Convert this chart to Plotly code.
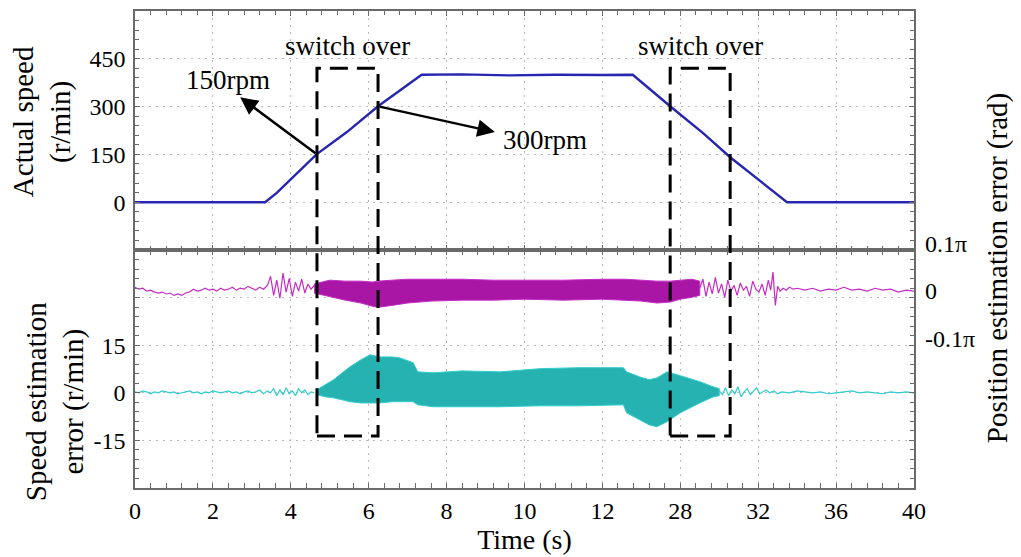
import plotly.graph_objects as go
from plotly.subplots import make_subplots

# ---------------- data (x in screen divisions, 0..10) ----------------
tick_positions = [0, 1, 2, 3, 4, 5, 6, 7, 8, 9, 10]
tick_labels = ["0", "2", "4", "6", "8", "10", "12", "28", "32", "36", "40"]

speed_t = [0, 1.0, 1.67, 1.82, 2.33, 2.72, 3.12, 3.68, 4.2, 4.8, 5.4, 6.0, 6.39,
           6.87, 7.3, 7.64, 8.0, 8.37, 9.0, 10]
speed_v = [0, 0, 0, 29, 150, 220, 301, 400, 401, 398, 400, 399, 400,
           301, 215, 141, 70, 0, 0, 0]

speed_ticks = [0, 150, 300, 450]
err_ticks = [-15, 0, 15, 30]
err_tick_labels = ["-15", "0", "15", ""]
pos_ticks = [-0.1, 0, 0.1]
pos_tick_labels = ["-0.1π", "0", "0.1π"]

# position estimation error (units of pi)
pos1_t = [0.00, 0.05, 0.10, 0.15, 0.20, 0.25, 0.30, 0.35, 0.40, 0.45, 0.50, 0.55, 0.60,
          0.65, 0.70, 0.75, 0.80, 0.85, 0.90, 0.95, 1.00, 1.05, 1.10, 1.15, 1.20, 1.25,
          1.30, 1.35, 1.40, 1.45, 1.50, 1.55, 1.60, 1.65, 1.70, 1.74, 1.78, 1.82, 1.86,
          1.90, 1.94, 1.98, 2.02, 2.06, 2.10, 2.14, 2.18, 2.22, 2.26, 2.30]
pos1_v = [0.022, 0.018, 0.020, 0.014, 0.016, 0.012, 0.010, 0.012, 0.008, 0.010, 0.005,
          0.008, 0.005, 0.010, 0.012, 0.018, 0.014, 0.016, 0.020, 0.016, 0.018, 0.014,
          0.020, 0.016, 0.018, 0.022, 0.016, 0.020, 0.018, 0.024, 0.020, 0.016, 0.022,
          0.018, 0.026, 0.045, 0.005, 0.037, -0.001, 0.052, 0.012, 0.041, 0.003, 0.033,
          0.014, 0.039, 0.010, 0.029, 0.018, 0.026]

pos_band_t = [2.30, 2.50, 2.70, 2.90, 3.05, 3.12, 3.30, 3.50, 3.80, 4.20, 4.60, 5.00,
              5.50, 6.00, 6.30, 6.50, 6.70, 6.87, 7.00, 7.15, 7.25]
pos_band_hi = [0.029, 0.037, 0.035, 0.035, 0.033, 0.035, 0.037, 0.039, 0.039, 0.039,
               0.037, 0.037, 0.037, 0.039, 0.039, 0.037, 0.035, 0.035, 0.037, 0.039, 0.035]
pos_band_lo = [0.010, 0.003, -0.005, -0.011, -0.018, -0.020, -0.016, -0.011, -0.007,
               -0.005, -0.005, -0.003, -0.005, -0.003, -0.005, -0.007, -0.011, -0.009,
               -0.003, 0.001, 0.005]

pos2_t = [7.25, 7.29, 7.33, 7.37, 7.41, 7.45, 7.49, 7.53, 7.57, 7.61, 7.65, 7.69, 7.73,
          7.77, 7.81, 7.85, 7.89, 7.93, 7.97, 8.01, 8.05, 8.09, 8.13, 8.16, 8.19, 8.22,
          8.25, 8.28, 8.32, 8.36, 8.40, 8.45, 8.50, 8.60, 8.70, 8.80, 8.90, 9.00, 9.10,
          9.20, 9.30, 9.40, 9.50, 9.60, 9.70, 9.80, 9.90, 10.0]
pos2_v = [0.020, 0.039, 0.003, 0.033, 0.008, 0.043, 0.010, 0.029, 0.001, 0.037, 0.014,
          0.026, 0.005, 0.031, 0.016, 0.024, 0.003, 0.035, 0.018, 0.012, 0.029, 0.005,
          0.037, 0.016, 0.054, -0.016, 0.024, 0.014, 0.020, 0.016, 0.022, 0.018, 0.020,
          0.016, 0.020, 0.014, 0.018, 0.016, 0.022, 0.016, 0.018, 0.014, 0.020, 0.016,
          0.018, 0.012, 0.016, 0.014]

# speed estimation error (r/min)
spd1_t = pos1_t
spd1_v = [0.3, 0.0, 0.6, 0.3, -0.3, 0.3, 0.0, 0.6, 0.3, 0.0, 0.3, -0.3, 0.0, 0.3, 0.6,
          0.0, 0.3, -0.3, 0.3, 0.0, 0.6, 0.3, 0.0, 0.3, 0.6, 0.0, 0.3, -0.3, 0.3, 0.6,
          0.0, 0.3, 0.9, -0.3, 0.6, 0.0, 1.3, -0.9, 0.9, -0.6, 1.6, -0.3, 0.6, -0.9,
          1.3, 0.0, 0.9, -0.6, 0.3, 0.0]

spd_band_t = [2.33, 2.45, 2.55, 2.66, 2.76, 2.90, 3.02, 3.14, 3.30, 3.40, 3.57, 3.63,
              3.83, 4.20, 4.69, 5.20, 5.70, 6.27, 6.31, 6.48, 6.60, 6.70, 6.83, 7.00,
              7.25, 7.42, 7.50]
spd_band_hi = [0.9, 2.5, 4.1, 6.3, 8.2, 10.4, 12.0, 11.3, 11.3, 11.0, 9.5, 6.6, 6.3,
               6.9, 6.6, 7.6, 7.9, 7.9, 6.6, 5.0, 4.1, 4.7, 6.6, 5.4, 3.5, 1.9, 1.3]
spd_band_lo = [-0.6, -1.3, -1.6, -2.2, -2.8, -3.2, -3.2, -3.2, -2.8, -2.8, -2.8, -3.8,
               -4.4, -4.4, -4.4, -4.1, -4.1, -3.8, -6.3, -8.5, -10.1, -10.7, -9.1, -6.3,
               -3.2, -1.3, -0.9]

spd2_t = [7.50, 7.54, 7.58, 7.62, 7.66, 7.70, 7.74, 7.78, 7.82, 7.86, 7.90, 7.94, 7.98,
          8.02, 8.06, 8.10, 8.15, 8.20, 8.25, 8.30, 8.40, 8.50, 8.60, 8.70, 8.80, 8.90,
          9.00, 9.10, 9.20, 9.30, 9.40, 9.50, 9.60, 9.70, 9.80, 9.90, 10.0]
spd2_v = [0.6, -0.6, 1.6, -0.9, 0.9, -0.3, 1.9, -1.3, 0.3, 1.3, -0.6, 0.6, 1.6, -0.3,
          0.3, 0.9, 0.0, 0.6, -0.3, 0.3, 0.0, 0.6, 0.3, 0.0, 0.3, -0.3, 0.0, 0.3, 0.6,
          0.0, 0.3, 0.0, -0.3, 0.3, 0.0, 0.3, 0.0]

# channel reference marker of the position-error trace (left edge)
pos_marker_t = [-0.045]
pos_marker_v = [-0.007]

# switch-over windows and annotation points
switch_windows = [(2.336, 3.12), (6.87, 7.64)]
arrow_150 = dict(tip=(1.35, 329), tail=(2.336, 150), label=(1.19, 383), text="150rpm")
arrow_300 = dict(tip=(4.62, 220), tail=(3.12, 301), label=(5.26, 195), text="300rpm")

# ---------------- figure ----------------
FONT = "Liberation Serif, Times New Roman, serif"
BLUE = "#2626b0"
MAG = "#c42cc4"
MAG_BAND = "#a916a6"
CYAN = "#30cccc"
CYAN_BAND = "#27b2b2"
AXC = "#6a6a6a"
GRIDC = "#b8b8b8"

fig = make_subplots(rows=2, cols=1, shared_xaxes=True, vertical_spacing=0,
                    specs=[[{}], [{"secondary_y": True}]])

fig.add_trace(go.Scatter(x=speed_t, y=speed_v, mode="lines",
                         line=dict(color=BLUE, width=2.4), showlegend=False), row=1, col=1)

fig.add_trace(go.Scatter(x=pos1_t, y=pos1_v, mode="lines",
                         line=dict(color=MAG, width=1.2), showlegend=False),
              row=2, col=1, secondary_y=True)
fig.add_trace(go.Scatter(x=pos_band_t + pos_band_t[::-1], y=pos_band_hi + pos_band_lo[::-1],
                         mode="lines", fill="toself", fillcolor=MAG_BAND,
                         line=dict(color=MAG, width=1), showlegend=False),
              row=2, col=1, secondary_y=True)
fig.add_trace(go.Scatter(x=pos2_t, y=pos2_v, mode="lines",
                         line=dict(color=MAG, width=1.2), showlegend=False),
              row=2, col=1, secondary_y=True)
fig.add_trace(go.Scatter(x=pos_marker_t, y=pos_marker_v, mode="markers", cliponaxis=False,
                         marker=dict(symbol="triangle-right", size=9, color=MAG_BAND),
                         showlegend=False),
              row=2, col=1, secondary_y=True)

fig.add_trace(go.Scatter(x=spd1_t, y=spd1_v, mode="lines",
                         line=dict(color=CYAN, width=1.2), showlegend=False),
              row=2, col=1, secondary_y=False)
fig.add_trace(go.Scatter(x=spd_band_t + spd_band_t[::-1], y=spd_band_hi + spd_band_lo[::-1],
                         mode="lines", fill="toself", fillcolor=CYAN_BAND,
                         line=dict(color=CYAN, width=1), showlegend=False),
              row=2, col=1, secondary_y=False)
fig.add_trace(go.Scatter(x=spd2_t, y=spd2_v, mode="lines",
                         line=dict(color=CYAN, width=1.2), showlegend=False),
              row=2, col=1, secondary_y=False)

tickfont = dict(family=FONT, size=24, color="black")
common_x = dict(range=[0, 10], tickmode="array", tickvals=tick_positions, automargin=False,
                showgrid=True, gridcolor=GRIDC, griddash="2px,5px", gridwidth=1,
                showline=True, linecolor=AXC, linewidth=1.5, mirror="allticks",
                ticks="inside", ticklen=5, tickcolor=AXC, zeroline=False,
                minor=dict(ticks="inside", ticklen=4, dtick=0.2, tickcolor=AXC, showgrid=False))

# page body adds an 8 px offset; figure size and margins compensate for it
fig.update_layout(
    xaxis=dict(common_x, showticklabels=False, domain=[0, 1]),
    xaxis2=dict(common_x, ticktext=tick_labels, tickfont=tickfont, domain=[0, 1],
                title=dict(text="Time (s)", font=dict(family=FONT, size=28, color="black"),
                           standoff=3)),
    yaxis=dict(domain=[0.499, 1.0], range=[-150, 600], tickmode="array", automargin=False,
               tickvals=speed_ticks, tickfont=tickfont,
               showgrid=True, gridcolor=GRIDC, griddash="2px,5px", zeroline=False,
               showline=True, linecolor=AXC, linewidth=1.5, mirror="allticks",
               ticks="inside", ticklen=5, tickcolor=AXC, ticklabelstandoff=3,
               minor=dict(ticks="inside", ticklen=4, dtick=30, tickcolor=AXC, showgrid=False)),
    yaxis2=dict(domain=[0, 0.499], range=[-30, 45], tickmode="array", automargin=False,
                tickvals=err_ticks, ticktext=err_tick_labels, tickfont=tickfont,
                showgrid=True, gridcolor=GRIDC, griddash="2px,5px", zeroline=False,
                showline=True, linecolor=AXC, linewidth=1.5, mirror="allticks",
                ticks="inside", ticklen=5, tickcolor=AXC, ticklabelstandoff=3,
                minor=dict(ticks="inside", ticklen=4, dtick=3, tickcolor=AXC, showgrid=False)),
    yaxis3=dict(range=[-0.4, 0.1005], tickmode="array", tickvals=pos_ticks, automargin=False,
                ticktext=pos_tick_labels, tickfont=tickfont, showgrid=False, zeroline=False,
                showline=False, ticks="", ticklabelstandoff=10, ticklabelshift=-7),
    width=1013, height=549,
    margin=dict(l=127, r=107, t=3, b=69, autoexpand=False),
    paper_bgcolor="white", plot_bgcolor="white",
    font=dict(family=FONT, color="black"),
    showlegend=False,
)

for (x0, x1) in switch_windows:
    fig.add_shape(type="rect", xref="x", yref="paper", x0=x0, x1=x1, y0=0.109, y1=0.880,
                  line=dict(color="black", width=3, dash="18px,9px"), fillcolor="rgba(0,0,0,0)")
    fig.add_annotation(x=(x0 + x1) / 2, y=490, xref="x", yref="y", text="switch over",
                       showarrow=False, font=dict(family=FONT, size=27, color="black"))

for a in (arrow_150, arrow_300):
    fig.add_annotation(x=a["tip"][0], y=a["tip"][1], xref="x", yref="y",
                       ax=a["tail"][0], ay=a["tail"][1], axref="x", ayref="y",
                       text="", showarrow=True, arrowhead=2, arrowsize=1.4,
                       arrowwidth=2.5, arrowcolor="black", standoff=0, startstandoff=0)
    fig.add_annotation(x=a["label"][0], y=a["label"][1], xref="x", yref="y",
                       text=a["text"], showarrow=False,
                       font=dict(family=FONT, size=27, color="black"))

title_font = dict(family=FONT, size=29, color="black")
fig.add_annotation(x=-0.1194, y=0.769, xref="paper", yref="paper", textangle=-90,
                   xanchor="center", yanchor="middle",
                   text="Actual speed<br>(r/min)", showarrow=False, font=title_font)
fig.add_annotation(x=-0.1027, y=0.182, xref="paper", yref="paper", textangle=-90,
                   xanchor="center", yanchor="middle",
                   text="Speed estimation<br>error (r/min)", showarrow=False, font=title_font)
fig.add_annotation(x=1.1066, y=0.461, xref="paper", yref="paper", textangle=-90,
                   xanchor="center", yanchor="middle",
                   text="Position estimation error (rad)", showarrow=False, font=title_font)

fig.write_html("out.html")
